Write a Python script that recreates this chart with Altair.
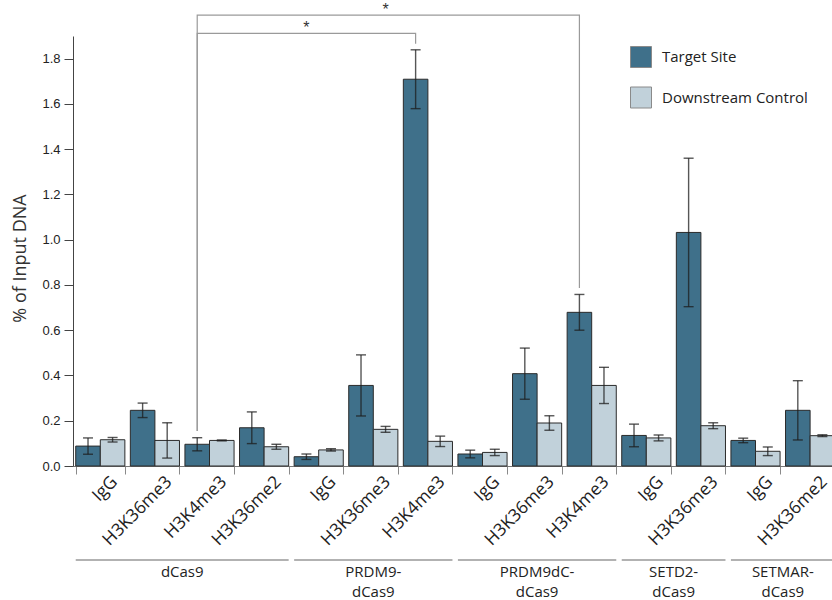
import altair as alt
import pandas as pd

# ---- data -------------------------------------------------------------
groups = ["dCas9", "PRDM9-\ndCas9", "PRDM9dC-\ndCas9", "SETD2-\ndCas9", "SETMAR-\ndCas9"]
group_of = [0, 0, 0, 0, 1, 1, 1, 2, 2, 2, 3, 3, 4, 4]
marks = ["IgG", "H3K36me3", "H3K4me3", "H3K36me2",
         "IgG", "H3K36me3", "H3K4me3",
         "IgG", "H3K36me3", "H3K4me3",
         "IgG", "H3K36me3",
         "IgG", "H3K36me2"]

target = [0.088, 0.246, 0.096, 0.169, 0.041, 0.356, 1.709,
          0.053, 0.408, 0.679, 0.135, 1.032, 0.113, 0.246]
target_err = [0.036, 0.032, 0.029, 0.070, 0.012, 0.135, 0.130,
              0.017, 0.113, 0.079, 0.050, 0.328, 0.010, 0.131]
control = [0.116, 0.113, 0.113, 0.085, 0.071, 0.162, 0.109,
           0.060, 0.190, 0.356, 0.124, 0.178, 0.065, 0.134]
control_err = [0.010, 0.078, 0.002, 0.011, 0.005, 0.013, 0.023,
               0.014, 0.032, 0.080, 0.013, 0.013, 0.019, 0.004]

series = ["Target Site", "Downstream Control"]

# significance brackets: start bar, end bar, bracket height, foot heights
br_from = [(2, "Target Site"), (2, "Target Site")]
br_to = [(6, "Target Site"), (9, "Target Site")]
br_level = [1.912, 1.992]
br_foot_left = [0.155, 0.155]
br_foot_right = [1.866, 0.786]
star_at = [(4, "Target Site"), (5, "Downstream Control")]
star_level = [1.935, 2.017]

# ---- tables -------------------------------------------------------------
keys = [f"{g}|{m}" for g, m in zip(group_of, marks)]

rows = []
for i, k in enumerate(keys):
    for s, v, e in ((series[0], target[i], target_err[i]),
                    (series[1], control[i], control_err[i])):
        rows.append({"key": k, "series": s, "value": v,
                     "lo": v - e, "hi": v + e})
bars = pd.DataFrame(rows)

caps = pd.concat([
    bars[["key", "series", "lo"]].rename(columns={"lo": "value"}),
    bars[["key", "series", "hi"]].rename(columns={"hi": "value"}),
])

br_rows = []
for b in range(len(br_level)):
    (i0, s0), (i1, s1) = br_from[b], br_to[b]
    pts = [(keys[i0], s0, br_foot_left[b]), (keys[i0], s0, br_level[b]),
           (keys[i1], s1, br_level[b]), (keys[i1], s1, br_foot_right[b])]
    for o, (k, s, y) in enumerate(pts):
        br_rows.append({"bracket": b, "order": o, "key": k, "series": s, "value": y})
brackets = pd.DataFrame(br_rows)

stars = pd.DataFrame({
    "key": [keys[i] for i, _ in star_at],
    "series": [s for _, s in star_at],
    "value": star_level,
    "t": ["*", "*"],
})

grp_rows = []
for gi, name in enumerate(groups):
    members = [keys[i] for i in range(len(keys)) if group_of[i] == gi]
    n = len(members)
    grp_rows.append({"key": members[0], "last": members[-1],
                     "mid": members[n // 2], "even": n % 2 == 0,
                     "label": name})
grp = pd.DataFrame(grp_rows)

# ---- shared scales and axes ---------------------------------------------
DARK = "#3f708a"
LIGHT = "#c1d1da"
xscale = alt.Scale(domain=keys, paddingInner=0.1, paddingOuter=0.05,
                   range=[0, 764.4])
oscale = alt.Scale(domain=series, paddingInner=0, paddingOuter=0)
yscale = alt.Scale(domain=[0, 1.9], nice=False, zero=False)

x_axis = alt.Axis(
    title=None, labelAngle=-45, labelAlign="right", labelBaseline="middle",
    labelExpr="split(datum.label, '|')[1]", labelFont="Open Sans",
    labelFontSize=17.5, labelColor="#222", labelOffset=14, labelPadding=5,
    tickBand="extent", tickSize=8, tickColor="#8a8a8a", domainColor="#777",
    labelOverlap=False, grid=False,
)
y_axis = alt.Axis(
    title="% of Input DNA", values=[0, 0.2, 0.4, 0.6, 0.8, 1.0, 1.2, 1.4, 1.6, 1.8],
    format=".1f", labelFont="Liberation Sans", labelFontSize=13,
    labelColor="#222", tickSize=9, tickColor="#444", domainColor="#444",
    labelPadding=4, grid=False, titleFont="Open Sans", titleFontSize=18,
    titleFontWeight="normal", titleColor="#333", titleX=-53, titleY=222,
    titleBaseline="middle",
)


def X(field, **kw):
    return alt.X(f"{field}:N", scale=xscale, axis=x_axis, **kw)


def Y(field):
    return alt.Y(f"{field}:Q", scale=yscale, axis=y_axis)


XO = alt.XOffset("series:N", scale=oscale)

bar_layer = alt.Chart(bars).mark_bar(stroke="#2b2b2b", strokeWidth=1).encode(
    x=X("key"),
    xOffset=XO,
    y=Y("value"),
    color=alt.Color(
        "series:N",
        scale=alt.Scale(domain=series, range=[DARK, LIGHT]),
        legend=alt.Legend(
            title=None, orient="none", legendX=557, legendY=10,
            symbolType="square", symbolSize=441, symbolStrokeColor="#8a8a8a",
            symbolStrokeWidth=1, symbolOpacity=1, labelFont="Open Sans",
            labelFontSize=15, labelColor="#222", rowPadding=14.5,
            labelOffset=10, padding=0,
        ),
    ),
)

err_layer = alt.Chart(bars).mark_rule(
    color="#1e1e1e", opacity=0.75, strokeWidth=1.4
).encode(
    x=X("key"), xOffset=XO,
    y=Y("lo"), y2="hi:Q",
)

cap_layer = alt.Chart(caps).mark_tick(
    color="#1e1e1e", opacity=0.75, thickness=1.4, size=10, orient="horizontal"
).encode(
    x=X("key"), xOffset=XO,
    y=Y("value"),
)

bracket_layer = alt.Chart(brackets).mark_line(
    color="#9a9a9a", strokeWidth=1.2
).encode(
    x=X("key"), xOffset=XO,
    y=Y("value"),
    detail="bracket:N", order="order:Q",
)

star_layer = alt.Chart(stars).mark_text(
    font="Liberation Sans", fontSize=16, color="#333", baseline="middle"
).encode(
    x=X("key"), xOffset=XO,
    y=Y("value"),
    text="t:N",
)

group_rules = alt.Chart(grp).mark_rule(color="#666", strokeWidth=1.2).encode(
    x=X("key", bandPosition=0),
    x2=alt.X2("last", bandPosition=1),
    y=alt.value(524),
)

group_text_even = alt.Chart(grp).transform_filter("datum.even").mark_text(
    font="Open Sans", fontSize=15, color="#222", baseline="top",
    lineBreak="\n", lineHeight=20, dx=-2.7,
).encode(
    x=X("mid", bandPosition=0),
    y=alt.value(529),
    text="label:N",
)

group_text_odd = alt.Chart(grp).transform_filter("!datum.even").mark_text(
    font="Open Sans", fontSize=15, color="#222", baseline="top",
    lineBreak="\n", lineHeight=20,
).encode(
    x=X("mid", bandPosition=0.5),
    y=alt.value(529),
    text="label:N",
)

chart = alt.layer(
    bar_layer, err_layer, cap_layer, bracket_layer, star_layer,
    group_rules, group_text_even, group_text_odd,
).properties(
    width=759, height=430,
    background="white",
    autosize=alt.AutoSizeParams(type="none"),
    padding={"left": 73, "top": 36, "right": 0, "bottom": 134},
).configure_view(stroke="transparent", strokeWidth=0)

chart.save("out.html", embed_options={"renderer": "svg", "actions": False})
